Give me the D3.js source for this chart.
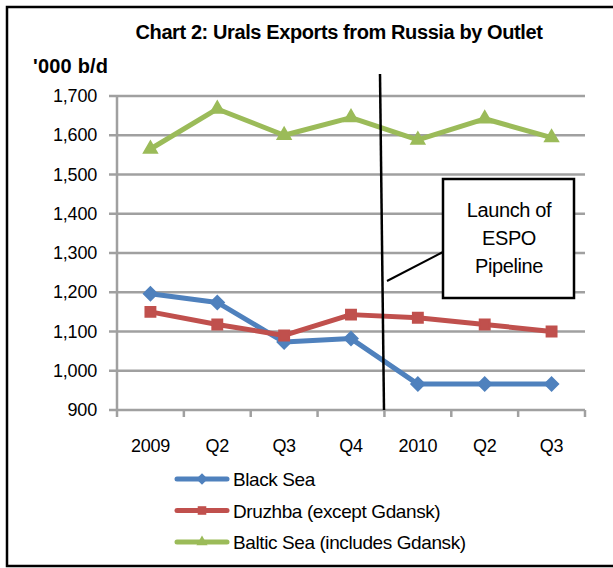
<!DOCTYPE html>
<html>
<head>
<meta charset="utf-8">
<script src="https://cdn.jsdelivr.net/npm/d3@7"></script>
<style>
  body { margin: 0; background: #fff; }
  text { font-family: "Liberation Sans", Arial, sans-serif; }
</style>
</head>
<body>
<svg id="chart" width="613" height="568"></svg>
<script>
'use strict';

var categories = ['2009', 'Q2', 'Q3', 'Q4', '2010', 'Q2 ', 'Q3 ']
var categoryLabels = ['2009', 'Q2', 'Q3', 'Q4', '2010', 'Q2', 'Q3']
var blackSea = [1196, 1174, 1073, 1082, 966, 966, 966]
var druzhba = [1150, 1118, 1090, 1143, 1135, 1118, 1100]
var balticSea = [1565, 1667, 1600, 1645, 1588, 1642, 1594]
var yTicks = [900, 1000, 1100, 1200, 1300, 1400, 1500, 1600, 1700]
var seriesNames = ['Black Sea', 'Druzhba (except Gdansk)', 'Baltic Sea (includes Gdansk)']

var svg = d3.select('#chart')
var gridColor = '#a0a0a0'

var x = d3.scaleBand().domain(categories).range([117, 585]).padding(0)
var y = d3.scaleLinear().domain([900, 1700]).range([410, 96])

var series = [
    { name: seriesNames[0], values: blackSea, color: '#4f81bd', symbol: d3.symbolDiamond2, size: 110 },
    { name: seriesNames[1], values: druzhba, color: '#c0504d', symbol: d3.symbolSquare2, size: 125 },
    { name: seriesNames[2], values: balticSea, color: '#9bbb59', symbol: d3.symbolTriangle2, size: 120 }
]

// outer frame
svg.append('path')
    .attr('d', 'M620,7 L7,7 L7,566 L620,566')
    .attr('fill', 'none')
    .attr('stroke', '#000')
    .attr('stroke-width', 2.5)

svg.append('text')
    .attr('x', 339).attr('y', 39)
    .attr('text-anchor', 'middle')
    .attr('font-size', 20).attr('font-weight', 'bold')
    .attr('letter-spacing', -0.4)
    .text('Chart 2: Urals Exports from Russia by Outlet')

svg.append('text')
    .attr('x', 33).attr('y', 73)
    .attr('font-size', 20).attr('font-weight', 'bold')
    .attr('letter-spacing', 0.2)
    .text("'000 b/d")

// gridlines
svg.append('g').selectAll('line')
    .data(yTicks)
    .enter().append('line')
    .attr('x1', 109).attr('x2', x.range()[1])
    .attr('y1', function(d) { return y(d) })
    .attr('y2', function(d) { return y(d) })
    .attr('stroke', gridColor)
    .attr('stroke-width', 2.5)

svg.append('g').selectAll('text')
    .data(yTicks)
    .enter().append('text')
    .attr('x', 97)
    .attr('y', function(d) { return y(d) + 6 })
    .attr('text-anchor', 'end')
    .attr('font-size', 18)
    .attr('letter-spacing', -0.2)
    .text(function(d) { return d3.format(',')(d) })

// y axis line
svg.append('line')
    .attr('x1', 117).attr('x2', 117)
    .attr('y1', y(1700)).attr('y2', 417)
    .attr('stroke', gridColor)
    .attr('stroke-width', 2.5)

// x ticks at category boundaries
var bounds = categories.map(function(c) { return x(c) }).concat([x.range()[1]])
svg.append('g').selectAll('line')
    .data(bounds.slice(1))
    .enter().append('line')
    .attr('x1', function(d) { return d }).attr('x2', function(d) { return d })
    .attr('y1', y(900)).attr('y2', 417)
    .attr('stroke', gridColor)
    .attr('stroke-width', 2.5)

svg.append('g').selectAll('text')
    .data(categories)
    .enter().append('text')
    .attr('x', function(d) { return x(d) + x.bandwidth() / 2 })
    .attr('y', 452)
    .attr('text-anchor', 'middle')
    .attr('font-size', 18)
    .attr('letter-spacing', -0.3)
    .text(function(d, i) { return categoryLabels[i] })

// series
var line = d3.line()
    .x(function(d, i) { return x(categories[i]) + x.bandwidth() / 2 })
    .y(function(d) { return y(d) })

series.forEach(function(s) {
    var g = svg.append('g')
    g.append('path')
        .datum(s.values)
        .attr('d', line)
        .attr('fill', 'none')
        .attr('stroke', s.color)
        .attr('stroke-width', 5)
        .attr('stroke-linejoin', 'round')
    g.selectAll('path.m')
        .data(s.values)
        .enter().append('path')
        .attr('class', 'm')
        .attr('d', d3.symbol().type(s.symbol).size(s.size))
        .attr('transform', function(d, i) {
            return 'translate(' + (x(categories[i]) + x.bandwidth() / 2) + ',' + y(d) + ')'
        })
        .attr('fill', s.color)
        .attr('stroke', s.color)
        .attr('stroke-width', 2)
})

// ESPO launch marker and callout
svg.append('line')
    .attr('x1', 380).attr('y1', 74)
    .attr('x2', 384).attr('y2', y(900))
    .attr('stroke', '#000')
    .attr('stroke-width', 2.5)

svg.append('line')
    .attr('x1', 443).attr('y1', 252)
    .attr('x2', 387).attr('y2', 281)
    .attr('stroke', '#000')
    .attr('stroke-width', 2)

svg.append('rect')
    .attr('x', 443).attr('y', 179)
    .attr('width', 131).attr('height', 119)
    .attr('fill', '#fff')
    .attr('stroke', '#000')
    .attr('stroke-width', 2.5)

var note = ['Launch of', 'ESPO', 'Pipeline']
svg.append('g').selectAll('text')
    .data(note)
    .enter().append('text')
    .attr('x', 509)
    .attr('y', function(d, i) { return 217 + i * 28 })
    .attr('text-anchor', 'middle')
    .attr('font-size', 20)
    .attr('letter-spacing', -0.4)
    .text(function(d) { return d })

// legend
var legend = svg.append('g').selectAll('g')
    .data(series)
    .enter().append('g')
    .attr('transform', function(d, i) { return 'translate(0,' + (479 + i * 31.5) + ')' })

legend.append('line')
    .attr('x1', 177).attr('x2', 227)
    .attr('stroke', function(d) { return d.color })
    .attr('stroke-width', 5)
    .attr('stroke-linecap', 'round')

legend.append('path')
    .attr('d', function(d) { return d3.symbol().type(d.symbol).size(d.size * 0.75)() })
    .attr('transform', 'translate(202,0)')
    .attr('fill', function(d) { return d.color })

legend.append('text')
    .attr('x', 233).attr('y', 7)
    .attr('font-size', 19)
    .attr('letter-spacing', -0.4)
    .text(function(d) { return d.name })
</script>
</body>
</html>
